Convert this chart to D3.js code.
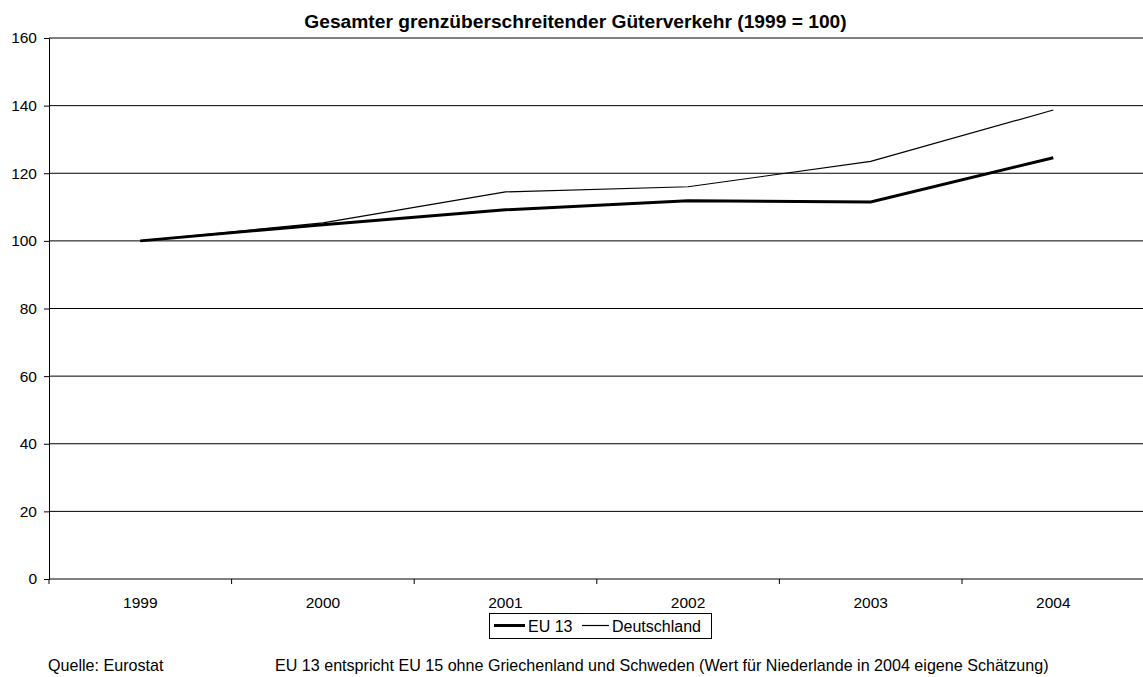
<!DOCTYPE html>
<html>
<head>
<meta charset="utf-8">
<script src="https://cdn.jsdelivr.net/npm/d3@7"></script>
<style>
  body { margin: 0; background: white; }
  text { font-family: "Liberation Sans", Arial, sans-serif; fill: black; }
</style>
</head>
<body>
<div id="chart"></div>
<script>
const years = ["1999", "2000", "2001", "2002", "2003", "2004"];
const eu13 = [100, 104.8, 109.2, 111.9, 111.5, 124.6];
const deutschland = [100, 105.3, 114.5, 116.0, 123.5, 138.7];
const yTicks = [0, 20, 40, 60, 80, 100, 120, 140, 160];

const width = 1143;
const height = 677;

const svg = d3.select("#chart")
  .append("svg")
  .attr("width", width)
  .attr("height", height);

const x = d3.scaleBand()
  .domain(years)
  .range([49, 49 + 6 * 182.6])
  .padding(0);

const y = d3.scaleLinear()
  .domain([0, 160])
  .range([579, 38]);

// gridlines
svg.append("g")
  .selectAll("line")
  .data(yTicks.filter(d => d > 0))
  .enter()
  .append("line")
  .attr("x1", 49)
  .attr("x2", width)
  .attr("y1", d => y(d))
  .attr("y2", d => y(d))
  .attr("stroke", "black")
  .attr("stroke-width", 1);

// y axis
const yAxis = svg.append("g")
  .attr("transform", "translate(49,0)")
  .call(d3.axisLeft(y).tickValues(yTicks).tickSize(5).tickPadding(7).tickFormat(d3.format("d")));

yAxis.select(".domain").attr("stroke", "black");
yAxis.selectAll(".tick line").attr("stroke", "black");
yAxis.selectAll("text")
  .attr("font-size", "15.5px")
  .attr("font-family", "'Liberation Sans', Arial, sans-serif")
  .attr("fill", "black");

// x axis: ticks sit on the band edges, labels in the middle
const xAxis = svg.append("g")
  .attr("transform", "translate(0,579)");

xAxis.append("line")
  .attr("x1", 49)
  .attr("x2", width)
  .attr("stroke", "black");

xAxis.selectAll(".xtick")
  .data(years)
  .enter()
  .append("line")
  .attr("class", "xtick")
  .attr("x1", d => x(d))
  .attr("x2", d => x(d))
  .attr("y1", 0)
  .attr("y2", 5)
  .attr("stroke", "black");

xAxis.selectAll(".xlabel")
  .data(years)
  .enter()
  .append("text")
  .attr("class", "xlabel")
  .attr("x", d => x(d) + x.bandwidth() / 2)
  .attr("y", 29)
  .attr("text-anchor", "middle")
  .attr("font-size", "15.5px")
  .text(d => d);

// lines
const line = d3.line()
  .x((d, i) => x(years[i]) + x.bandwidth() / 2)
  .y(d => y(d));

svg.append("path")
  .datum(deutschland)
  .attr("d", line)
  .attr("fill", "none")
  .attr("stroke", "black")
  .attr("stroke-width", 1.2);

svg.append("path")
  .datum(eu13)
  .attr("d", line)
  .attr("fill", "none")
  .attr("stroke", "black")
  .attr("stroke-width", 3);

// title
svg.append("text")
  .attr("x", 575.5)
  .attr("y", 27.5)
  .attr("text-anchor", "middle")
  .attr("font-size", "19.2px")
  .attr("font-weight", "bold")
  .text("Gesamter grenzüberschreitender Güterverkehr (1999 = 100)");

// legend
const legend = svg.append("g");

legend.append("rect")
  .attr("x", 489.5)
  .attr("y", 613.5)
  .attr("width", 222)
  .attr("height", 25)
  .attr("fill", "white")
  .attr("stroke", "black");

legend.append("line")
  .attr("x1", 494)
  .attr("x2", 525)
  .attr("y1", 625.5)
  .attr("y2", 625.5)
  .attr("stroke", "black")
  .attr("stroke-width", 3);

legend.append("text")
  .attr("x", 528)
  .attr("y", 632)
  .attr("font-size", "16px")
  .text("EU 13");

legend.append("line")
  .attr("x1", 582)
  .attr("x2", 609)
  .attr("y1", 625.5)
  .attr("y2", 625.5)
  .attr("stroke", "black")
  .attr("stroke-width", 1.2);

legend.append("text")
  .attr("x", 612)
  .attr("y", 632)
  .attr("font-size", "16px")
  .text("Deutschland");

// footer
svg.append("text")
  .attr("x", 48)
  .attr("y", 671)
  .attr("font-size", "16.1px")
  .text("Quelle: Eurostat");

svg.append("text")
  .attr("x", 275)
  .attr("y", 671)
  .attr("font-size", "16.1px")
  .text("EU 13 entspricht EU 15 ohne Griechenland und Schweden (Wert für Niederlande in 2004 eigene Schätzung)");
</script>
</body>
</html>
